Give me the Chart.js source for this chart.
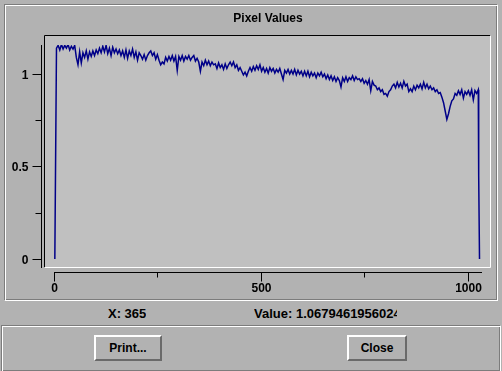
<!DOCTYPE html>
<html>
<head>
<meta charset="utf-8">
<script src="https://cdn.jsdelivr.net/npm/chart.js@4"></script>
<style>
    body {
        margin: 0;
        width: 502px;
        height: 371px;
        overflow: hidden;
        background: #b2b2b2;
        font-family: "Liberation Sans", Arial, sans-serif;
        font-weight: bold;
        position: relative;
    }
    .etched {
        position: absolute;
        box-sizing: border-box;
        border: 1px solid;
        border-color: #7c7c7c #ffffff #ffffff #7c7c7c;
        box-shadow: inset 1px 1px 0 #ffffff, inset -1px -1px 0 #7c7c7c;
    }
    #top-frame { left: 4px; top: 4px; width: 494px; height: 297px; }
    #bottom-frame { left: 1px; top: 325px; width: 500px; height: 47px; }
    #chart-box { position: absolute; left: 0; top: 0; width: 502px; height: 300px; }
    .status {
        position: absolute;
        top: 306px;
        font-size: 13px;
        line-height: 16px;
        white-space: nowrap;
        overflow: hidden;
        color: #000;
    }
    #x-label { left: 108px; }
    #value-label { left: 254px; width: 143px; }
    .btn {
        position: absolute;
        top: 335px;
        height: 26px;
        box-sizing: border-box;
        border: 2px solid;
        border-color: #ffffff #6a6a6a #6a6a6a #ffffff;
        background: #b2b2b2;
        font-family: "Liberation Sans", Arial, sans-serif;
        font-weight: bold;
        font-size: 12px;
        color: #000;
        padding: 0;
    }
    #print-btn { left: 94px; width: 68px; }
    #close-btn { left: 347px; width: 60px; }
</style>
</head>
<body>
<div class="etched" id="top-frame"></div>
<div id="chart-box"><canvas id="pixel-chart"></canvas></div>
<div class="status" id="x-label">X: 365</div>
<div class="status" id="value-label">Value: 1.0679461956024</div>
<div class="etched" id="bottom-frame"></div>
<button class="btn" id="print-btn">Print...</button>
<button class="btn" id="close-btn">Close</button>

<script>
// Nilai piksel (x = pixelStart + pixelStep * i)
const pixelStart = 2;
const pixelStep = 4;
const pixelValues = [
    0,
    1.14, 1.155, 1.13, 1.16, 1.135, 1.155, 1.14, 1.16, 1.13, 1.15, 1.135, 1.155,
    1.09, 1.05, 1.12, 1.06, 1.115, 1.09, 1.125, 1.08, 1.12, 1.095, 1.125, 1.10,
    1.13, 1.11, 1.14, 1.115, 1.15, 1.12, 1.155, 1.11, 1.14, 1.10, 1.145, 1.115, 1.135, 1.11, 1.13, 1.10,
    1.125, 1.09, 1.13, 1.085, 1.125, 1.10, 1.135, 1.09, 1.12, 1.075, 1.115, 1.10,
    1.08, 1.105, 1.075, 1.10, 1.115, 1.125,
    1.10, 1.115, 1.08, 1.105, 1.075,
    1.05, 1.065, 1.055,
    1.09, 1.07, 1.095, 1.075, 1.10, 1.07, 1.095,
    1.02,
    1.095, 1.075, 1.10, 1.07, 1.095, 1.08, 1.10, 1.075, 1.09, 1.10, 1.07, 1.085, 1.065,
    1.015,
    1.065, 1.045, 1.075, 1.05, 1.07, 1.045, 1.065, 1.05,
    1.055, 1.03, 1.06, 1.035, 1.05, 1.025, 1.055, 1.03, 1.05,
    1.065,
    1.045, 1.065, 1.035, 1.05,
    1.02, 1.035, 1.015,
    0.995, 1.01, 0.99, 1.015,
    1.035, 1.015, 1.04, 1.02, 1.045, 1.025, 1.05, 1.015, 1.035,
    1.01, 1.03, 1.005, 1.035, 1.015, 1.03, 1.005, 1.025,
    1.01, 1.03, 1.0, 0.97, 1.02, 1.005, 1.025, 1.0, 1.02,
    1.0, 1.025, 0.995, 1.02, 1.0, 1.015,
    0.99, 1.015, 0.99, 1.015, 0.985, 1.01, 0.99, 1.005, 0.98,
    1.005, 0.99, 1.01, 0.985, 1.0,
    0.975, 0.995, 0.97, 0.99, 0.965,
    0.985, 0.96, 0.98, 0.965, 0.93, 0.98, 0.96, 0.985, 0.96, 0.98,
    0.97, 0.99, 0.965, 0.985, 0.97, 0.975, 0.96, 0.975,
    0.95, 0.965, 0.945, 0.97, 0.91, 0.96, 0.94,
    0.935, 0.915, 0.925, 0.905, 0.915, 0.89, 0.895, 0.88,
    0.905, 0.915, 0.935,
    0.945, 0.925, 0.955, 0.93, 0.95, 0.925, 0.96, 0.935, 0.945,
    0.905, 0.92, 0.905, 0.935, 0.915,
    0.94, 0.925, 0.945, 0.92, 0.955, 0.925, 0.945, 0.92, 0.935,
    0.915, 0.925, 0.905, 0.915, 0.895,
    0.9, 0.875,
    0.845, 0.80, 0.755,
    0.785, 0.825, 0.855,
    0.865, 0.895,
    0.885, 0.91, 0.89, 0.915, 0.87, 0.905, 0.89, 0.91, 0.885, 0.915, 0.86, 0.91, 0.895,
    0.915
];
// Ujung kanan: turun tajam ke nol
const tailX = [1027, 1029];
const tailValues = [0.45, 0];

// Sumbu
const xMin = 0;
const xMax = 1035;
const yMin = -0.049;
const yMax = 1.157;
const xTickValues = [0, 250, 500, 750, 1000];
const xTickLabels = { 0: '0', 500: '500', 1000: '1000' };
const yTickValues = [0, 0.25, 0.5, 0.75, 1];
const yTickLabels = { 0: '0', 0.5: '0.5', 1: '1' };

// Susun titik data
const points = pixelValues.map((v, i) => ({ x: pixelStart + pixelStep * i, y: v }));
tailX.forEach((x, i) => points.push({ x: x, y: tailValues[i] }));

const labelFont = 'bold 12px "Liberation Sans", Arial, sans-serif';

// Panel plot abu-abu terang dengan bingkai cekung
const plotPanel = {
    id: 'plotPanel',
    beforeDatasetsDraw(chart) {
        const { ctx, chartArea } = chart;
        const l = chartArea.left - 10;
        const t = chartArea.top - 10;
        const r = chartArea.right + 8;
        const b = chartArea.bottom - 1;
        ctx.save();
        ctx.fillStyle = '#c0c0c0';
        ctx.fillRect(l, t, r - l, b - t);
        ctx.lineWidth = 1;
        ctx.strokeStyle = '#000000';
        ctx.beginPath();
        ctx.moveTo(l + 0.5, b);
        ctx.lineTo(l + 0.5, t + 0.5);
        ctx.lineTo(r, t + 0.5);
        ctx.stroke();
        ctx.strokeStyle = '#ffffff';
        ctx.beginPath();
        ctx.moveTo(l + 1, b + 0.5);
        ctx.lineTo(r + 0.5, b + 0.5);
        ctx.lineTo(r + 0.5, t + 1);
        ctx.stroke();
        ctx.restore();
    }
};

// Sumbu gaya Motif: garis terpisah di luar panel
const motifAxes = {
    id: 'motifAxes',
    afterDraw(chart) {
        const { ctx, chartArea, scales } = chart;
        const xs = scales.x;
        const ys = scales.y;
        const axisX = chartArea.left - 12.5;
        const axisY = chartArea.bottom + 4.5;
        ctx.save();
        ctx.strokeStyle = '#000000';
        ctx.fillStyle = '#000000';
        ctx.lineWidth = 1;
        ctx.font = labelFont;

        // sumbu y
        ctx.beginPath();
        ctx.moveTo(axisX, ys.getPixelForValue(yMax));
        ctx.lineTo(axisX, ys.getPixelForValue(yMin));
        ctx.stroke();
        ctx.textAlign = 'right';
        ctx.textBaseline = 'middle';
        yTickValues.forEach(v => {
            const py = Math.round(ys.getPixelForValue(v)) + 0.5;
            const major = yTickLabels[v] !== undefined;
            ctx.beginPath();
            ctx.moveTo(axisX - (major ? 9 : 6), py);
            ctx.lineTo(axisX, py);
            ctx.stroke();
            if (major) ctx.fillText(yTickLabels[v], axisX - 13, py + 1);
        });

        // sumbu x
        ctx.beginPath();
        ctx.moveTo(xs.getPixelForValue(xMin), axisY);
        ctx.lineTo(xs.getPixelForValue(xMax), axisY);
        ctx.stroke();
        ctx.textAlign = 'center';
        ctx.textBaseline = 'middle';
        xTickValues.forEach(v => {
            const px = Math.round(xs.getPixelForValue(v)) + 0.5;
            const major = xTickLabels[v] !== undefined;
            ctx.beginPath();
            ctx.moveTo(px, axisY);
            ctx.lineTo(px, axisY + (major ? 9 : 5));
            ctx.stroke();
            if (major) ctx.fillText(xTickLabels[v], px, axisY + 16);
        });
        ctx.restore();
    }
};

new Chart(document.getElementById('pixel-chart'), {
    type: 'line',
    data: {
        datasets: [{
            label: 'Pixel Values',
            data: points,
            borderColor: '#000088',
            borderWidth: 1.5,
            pointRadius: 0,
            tension: 0,
            fill: false
        }]
    },
    options: {
        responsive: true,
        maintainAspectRatio: false,
        animation: false,
        events: [],
        layout: {
            padding: { left: 54, right: 20, top: 0, bottom: 32 }
        },
        scales: {
            x: { type: 'linear', display: false, min: xMin, max: xMax },
            y: { type: 'linear', display: false, min: yMin, max: yMax }
        },
        plugins: {
            legend: { display: false },
            tooltip: { enabled: false },
            title: {
                display: true,
                text: 'Pixel Values',
                fullSize: false,
                color: '#000000',
                font: { family: '"Liberation Sans", Arial, sans-serif', size: 12, weight: 'bold' },
                padding: { top: 11.8, bottom: 18.8 }
            }
        }
    },
    plugins: [plotPanel, motifAxes]
});
</script>
</body>
</html>
